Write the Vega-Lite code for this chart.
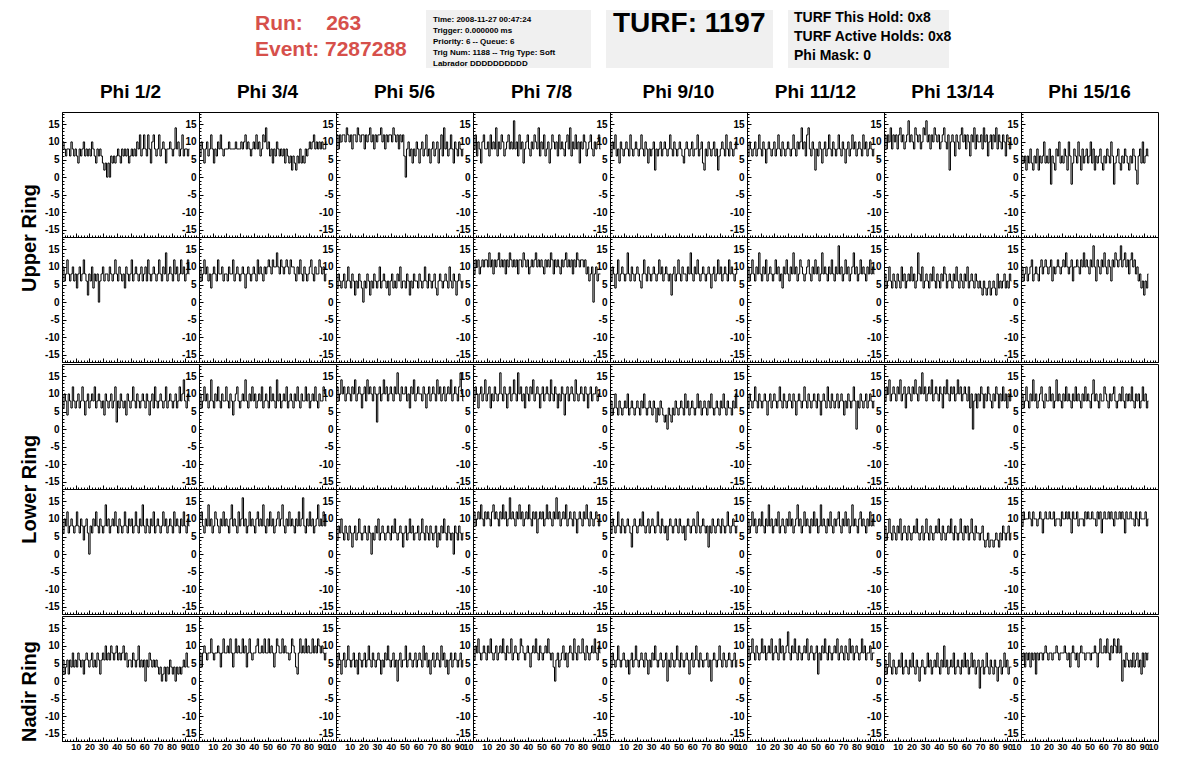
{
"$schema": "https://vega.github.io/schema/vega-lite/v6.json",
"background": "white",
"padding": {"left": 20, "top": 10, "right": 5, "bottom": 5},
"config": {
  "font": "Liberation Sans",
  "view": {"stroke": "black", "strokeWidth": 1},
  "axis": {"domainColor": "black", "domainWidth": 1, "tickColor": "black", "tickWidth": 1, "labelColor": "black", "labelFontWeight": "bold", "labelFontSize": 10, "labelFont": "Liberation Sans", "grid": false}
},
"datasets": {
"xs": [{"k":1,"x":[0,1,2,3,4,5,6,7,8,9,10,11,12,13,14,15,16,17,18,19,20,21,22,23,24,25,26,27,28,29,30,31,32,33,34,35,36,37,38,39,40,41,42,43,44,45,46,47,48,49,50,51,52,53,54,55,56,57,58,59,60,61,62,63,64,65,66,67,68,69,70,71,72,73,74,75,76,77,78,79,80,81,82,83,84,85,86,87,88,89,90,91,92,93]}],
"upper": [
{"k":1,"r":1,"c":"Phi 1/2","y":[8,10,8,6,8,8,6,10,8,6,8,6,4,8,6,8,10,6,8,6,8,6,10,8,6,4,8,6,8,6,4,2,4,0,4,0,6,4,6,4,6,8,6,4,8,6,8,6,8,4,6,8,6,8,6,10,8,12,6,8,12,8,6,12,8,4,10,12,8,6,8,12,6,8,10,8,4,8,8,10,8,6,8,14,8,10,6,8,12,6,8,8,6,8]},
{"k":1,"r":1,"c":"Phi 3/4","y":[8,6,10,8,4,8,10,6,8,12,8,4,8,6,10,8,12,8,6,8,8,8,10,8,8,8,8,10,8,8,8,10,8,10,12,8,10,8,6,8,10,8,12,8,10,6,8,12,10,14,8,10,6,8,4,8,6,10,8,6,8,6,8,4,8,6,4,6,2,6,4,2,6,4,8,4,6,4,8,6,8,10,8,10,12,8,10,8,10,8,10,8,8,10]},
{"k":1,"r":1,"c":"Phi 5/6","y":[10,12,8,12,10,12,12,10,14,12,10,12,8,12,12,10,14,12,10,12,12,8,12,10,12,14,10,12,8,12,10,12,12,14,10,12,8,12,10,12,12,10,14,12,10,12,8,12,10,12,6,0,8,10,6,8,4,8,6,10,8,4,8,10,6,8,12,6,8,4,8,10,6,8,10,4,8,12,6,14,8,10,6,8,12,8,4,10,8,6,10,8,6,8]},
{"k":1,"r":1,"c":"Phi 7/8","y":[10,8,12,6,10,8,4,10,12,8,8,10,6,12,8,10,8,14,6,10,8,12,10,6,8,10,12,8,10,8,16,8,10,6,12,8,10,4,8,10,12,8,6,10,8,12,10,8,14,6,10,8,12,6,8,10,4,8,12,10,8,10,6,12,8,10,8,6,10,12,8,14,6,10,8,12,8,10,4,10,8,12,10,6,8,10,12,8,6,10,8,10,12,8]},
{"k":1,"r":1,"c":"Phi 9/10","y":[8,6,10,8,12,6,8,4,10,8,6,8,10,8,6,12,8,6,8,10,8,6,8,12,8,6,10,8,4,8,6,8,10,2,8,6,8,10,6,8,10,8,6,8,12,8,6,10,8,6,8,10,8,6,4,8,10,8,6,8,10,6,8,8,12,6,8,10,4,2,8,6,10,8,6,8,10,6,8,2,6,8,10,8,6,12,8,6,10,8,6,8,10,8]},
{"k":1,"r":1,"c":"Phi 11/12","y":[8,6,10,8,6,8,10,6,8,12,8,6,10,8,4,8,10,8,6,8,10,6,8,12,8,6,10,8,6,8,10,8,6,8,12,8,6,10,8,10,14,8,10,6,12,14,8,6,10,8,2,8,6,10,8,4,8,10,6,8,12,8,6,10,8,6,8,12,8,6,10,8,4,8,10,6,8,12,8,10,6,8,10,8,6,12,8,10,6,8,10,8,6,8]},
{"k":1,"r":1,"c":"Phi 13/14","y":[10,12,8,12,10,14,8,12,10,12,8,12,14,10,12,8,10,12,16,10,12,10,8,14,12,10,12,8,10,14,12,16,10,12,8,12,10,14,12,10,12,8,10,12,14,10,8,12,2,10,12,10,6,12,10,8,12,14,10,12,8,12,10,6,12,10,14,8,12,10,10,12,8,14,10,12,6,10,12,8,12,10,14,8,12,10,8,12,10,6,12,10,8,10]},
{"k":1,"r":1,"c":"Phi 15/16","y":[6,6,4,6,2,6,4,8,4,2,6,4,8,2,6,4,6,10,4,6,4,8,-2,6,4,2,8,6,10,4,6,4,8,6,2,10,6,-2,4,8,6,4,10,6,2,8,4,6,8,4,6,10,4,8,2,6,4,6,8,4,2,6,4,8,6,4,10,6,-2,4,6,8,4,2,6,4,8,6,4,2,6,4,8,6,2,-2,6,8,4,10,4,6,8,6]},
{"k":1,"r":2,"c":"Phi 1/2","y":[8,10,6,8,12,8,6,8,10,6,8,4,8,10,6,8,12,8,6,2,8,6,10,4,8,6,8,0,6,8,10,6,8,8,6,10,8,6,8,12,8,6,10,8,6,8,4,10,8,6,8,12,6,8,10,8,6,8,10,6,8,10,6,12,8,6,8,10,8,6,8,12,8,6,10,8,14,6,8,10,8,6,12,8,10,6,8,12,8,10,6,8,12,8]},
{"k":1,"r":2,"c":"Phi 3/4","y":[8,10,6,8,12,8,10,6,8,4,8,10,8,6,12,8,8,10,6,8,8,6,10,8,8,12,6,8,10,8,6,8,10,8,4,8,10,8,6,8,10,8,6,12,8,10,8,6,10,8,10,12,10,8,12,10,10,14,10,8,12,10,8,10,12,10,8,12,10,10,8,6,10,8,12,8,6,10,8,6,8,10,12,8,6,10,8,8,12,10,8,10,6,8]},
{"k":1,"r":2,"c":"Phi 5/6","y":[6,4,8,6,4,6,8,4,6,10,6,4,8,6,2,6,4,8,6,4,0,6,4,8,6,2,6,4,8,6,4,6,10,4,6,8,6,4,6,2,6,8,4,6,4,8,6,10,4,6,6,4,8,6,2,6,4,8,6,6,4,8,6,4,6,10,6,4,8,6,4,6,8,4,2,6,8,6,4,6,8,6,4,10,6,4,8,6,2,6,8,6,4,6]},
{"k":1,"r":2,"c":"Phi 7/8","y":[10,8,12,10,12,8,10,12,10,12,12,10,14,10,12,8,12,10,12,14,10,12,10,12,8,12,10,14,12,10,12,10,12,8,12,12,10,14,12,10,12,8,10,12,10,12,14,10,12,10,12,10,8,12,10,12,10,14,12,8,12,10,12,10,8,12,10,12,14,10,12,10,12,8,12,10,14,12,10,12,12,10,12,8,10,6,8,10,0,8,10,6,8,8]},
{"k":1,"r":2,"c":"Phi 9/10","y":[8,6,10,8,4,8,12,6,8,10,8,6,8,14,8,6,10,8,6,8,10,8,6,4,8,12,8,6,10,8,6,8,10,8,6,8,12,8,10,6,8,10,8,6,8,2,8,10,6,8,12,8,6,10,8,8,6,10,8,14,8,6,10,8,12,8,6,8,10,8,6,8,10,8,4,8,10,6,8,12,8,10,6,8,10,8,6,12,8,10,8,6,8,10]},
{"k":1,"r":2,"c":"Phi 11/12","y":[8,10,6,8,12,8,6,10,8,14,8,6,10,8,12,6,8,10,8,6,8,12,8,10,6,8,4,10,8,12,8,6,10,8,14,8,10,6,8,12,10,8,6,8,10,12,8,6,10,8,12,8,10,6,8,14,8,10,8,6,10,8,12,8,6,10,8,16,8,10,6,8,12,8,10,6,8,10,14,8,10,6,8,12,8,10,8,6,10,8,12,8,10,8]},
{"k":1,"r":2,"c":"Phi 13/14","y":[6,8,4,6,10,6,4,8,6,4,8,6,4,10,6,8,4,6,8,6,10,6,8,4,6,14,8,6,10,4,6,8,6,4,8,6,10,6,4,8,6,4,8,6,10,8,4,6,8,6,4,8,6,10,6,4,8,6,4,8,6,10,4,6,8,6,4,8,6,4,6,4,2,6,4,2,4,6,2,4,6,4,2,8,4,6,4,6,8,4,6,4,8,6]},
{"k":1,"r":2,"c":"Phi 15/16","y":[8,10,6,8,10,6,8,10,12,6,8,10,8,6,10,12,8,10,12,10,8,10,12,6,10,8,10,12,10,8,10,12,10,14,10,8,10,12,6,10,10,12,10,8,12,10,14,10,12,10,8,12,10,16,10,6,12,10,8,12,10,14,10,8,12,10,6,12,10,14,12,10,12,16,10,12,14,10,12,8,12,14,10,12,8,10,6,8,4,6,2,6,4,8]}
],
"lower": [
{"k":1,"r":1,"c":"Phi 1/2","y":[8,6,10,8,4,10,8,6,12,8,6,8,10,6,8,12,8,4,8,10,6,8,10,8,12,6,8,10,8,6,8,4,10,8,6,8,10,6,8,12,2,8,6,10,8,6,8,4,10,8,6,8,12,8,6,10,8,6,8,10,8,6,10,8,4,8,10,6,12,8,6,8,10,8,6,8,12,6,8,10,8,6,8,10,6,8,12,8,10,14,8,6,10,8]},
{"k":1,"r":1,"c":"Phi 3/4","y":[8,10,6,8,12,8,10,6,8,14,8,6,10,8,12,8,6,10,8,8,12,8,6,10,8,4,8,10,12,8,6,8,10,8,14,8,6,10,8,12,8,10,6,8,10,8,12,6,8,10,8,6,12,8,10,8,6,14,8,10,6,8,10,8,12,6,8,10,8,6,10,8,12,8,6,10,8,8,12,8,10,6,8,10,8,12,8,6,10,8,8,12,10,8]},
{"k":1,"r":1,"c":"Phi 5/6","y":[10,12,8,10,14,10,12,8,10,12,10,8,12,10,14,8,10,12,10,6,10,12,8,14,10,12,10,8,12,10,2,10,12,8,10,14,10,12,8,10,12,10,8,12,10,16,10,8,12,10,10,12,8,10,6,12,10,14,8,10,12,10,10,8,12,10,6,10,12,8,10,12,10,8,14,10,12,8,10,12,8,10,12,10,14,8,10,12,10,8,12,16,10,8]},
{"k":1,"r":1,"c":"Phi 7/8","y":[10,8,12,10,6,10,12,8,10,14,8,10,12,6,10,8,12,10,8,10,16,10,8,12,10,6,10,12,8,10,14,10,8,16,10,12,8,10,6,12,10,8,12,10,14,8,10,12,10,6,10,12,8,10,12,10,8,14,10,8,12,10,6,10,8,12,10,4,10,12,8,10,12,10,8,14,10,8,10,12,10,8,12,10,6,10,12,8,10,10,12,8,10,10]},
{"k":1,"r":1,"c":"Phi 9/10","y":[6,8,4,6,10,6,4,8,6,4,6,8,6,10,4,6,8,6,4,6,8,6,4,8,6,10,6,4,6,8,6,4,8,6,2,6,4,8,6,4,2,4,0,6,4,2,6,4,8,6,4,6,8,6,4,10,6,8,4,6,8,6,4,6,10,6,8,4,6,8,6,4,8,6,10,6,4,6,8,6,4,8,6,10,6,4,8,6,6,4,8,6,10,6]},
{"k":1,"r":1,"c":"Phi 11/12","y":[8,6,10,8,6,8,12,8,6,10,8,6,8,10,8,4,8,10,6,8,10,8,6,8,12,8,6,10,8,6,8,10,8,6,10,8,4,8,10,8,6,8,12,8,6,10,8,6,8,10,8,6,10,8,4,8,10,8,6,12,8,6,10,8,6,8,10,6,8,10,8,4,8,6,10,8,6,8,12,8,0,8,6,10,8,6,8,10,6,8,10,8,6,8]},
{"k":1,"r":1,"c":"Phi 13/14","y":[10,8,12,10,14,8,10,12,10,8,12,10,14,8,10,12,6,10,12,10,8,12,10,14,10,8,12,10,16,10,12,8,10,12,10,14,8,10,12,10,8,12,10,6,12,10,14,10,8,12,10,12,8,10,14,10,12,8,10,12,10,8,12,6,10,0,8,10,6,10,8,12,10,6,10,8,12,10,8,6,10,8,12,10,6,10,8,12,8,10,6,10,8,10]},
{"k":1,"r":1,"c":"Phi 15/16","y":[8,10,6,8,12,8,6,10,8,14,8,10,6,8,10,12,8,6,10,8,8,12,8,10,6,8,14,8,10,8,6,10,8,12,8,10,8,6,10,8,12,8,10,8,6,10,8,12,8,10,8,6,10,14,8,10,8,6,10,8,8,12,10,8,6,10,8,10,12,8,6,8,10,8,12,8,6,10,8,10,8,12,8,6,10,8,10,6,8,12,8,10,6,8]},
{"k":1,"r":2,"c":"Phi 1/2","y":[8,6,10,8,12,6,8,10,8,6,8,12,8,6,10,8,4,8,10,6,0,8,6,10,8,12,8,6,10,8,6,8,14,8,10,6,8,10,8,12,8,6,10,8,6,8,12,8,6,10,8,10,6,8,12,8,6,10,8,14,8,6,10,8,6,10,8,12,6,8,10,8,6,8,12,8,10,6,8,10,8,6,12,8,10,8,6,10,8,12,8,6,10,8]},
{"k":1,"r":2,"c":"Phi 3/4","y":[8,10,12,8,6,10,8,14,8,10,6,8,12,10,8,6,10,8,12,8,10,8,6,10,14,8,10,8,6,12,8,10,16,8,10,6,8,12,8,10,8,6,10,12,8,10,8,14,8,6,10,8,12,8,10,6,8,10,12,8,10,14,8,6,10,8,12,8,10,8,6,10,8,12,8,10,16,8,6,10,8,12,8,10,6,8,10,14,8,10,8,12,8,10]},
{"k":1,"r":2,"c":"Phi 5/6","y":[6,4,8,6,10,6,4,8,6,4,8,6,2,6,8,4,6,10,6,4,6,8,6,4,8,6,0,6,4,8,6,10,4,6,8,6,4,6,8,6,4,8,6,10,6,4,6,8,6,2,6,8,4,6,10,6,8,4,6,6,8,4,6,10,6,4,8,6,4,8,6,4,6,8,2,6,4,8,6,10,6,4,8,6,4,6,0,8,6,4,8,6,4,6]},
{"k":1,"r":2,"c":"Phi 7/8","y":[10,12,8,10,12,10,14,10,8,12,10,12,10,8,12,14,10,12,10,8,12,10,14,10,12,8,10,16,10,12,10,8,12,10,14,10,12,8,10,12,10,14,10,8,12,10,12,6,10,12,10,12,8,10,14,10,12,10,8,12,10,16,10,12,8,10,12,10,14,8,10,12,10,8,12,10,6,10,12,10,8,12,10,14,10,8,12,10,8,10,12,10,8,10]},
{"k":1,"r":2,"c":"Phi 9/10","y":[8,6,10,8,6,8,12,8,6,10,8,6,8,10,8,6,2,8,10,8,6,8,10,8,12,8,6,8,10,6,8,10,8,6,8,12,8,6,10,8,6,8,4,8,10,8,6,8,10,8,6,10,8,6,8,4,8,10,8,6,8,10,8,6,12,8,6,8,10,8,6,8,2,8,6,10,8,6,8,10,8,6,10,8,6,8,12,8,6,8,10,8,6,8]},
{"k":1,"r":2,"c":"Phi 11/12","y":[8,10,6,8,12,8,10,6,8,10,8,12,8,6,10,8,14,8,10,6,8,10,8,12,6,8,10,8,6,10,8,12,8,10,6,8,10,14,8,10,6,8,12,8,10,8,6,10,8,12,8,10,6,8,14,8,10,8,6,10,8,12,8,6,10,8,10,12,8,6,10,8,12,8,10,6,8,14,8,10,8,6,10,12,8,10,8,6,10,8,12,8,10,8]},
{"k":1,"r":2,"c":"Phi 13/14","y":[6,8,4,6,10,6,4,8,6,4,8,6,10,4,6,8,6,4,8,6,4,6,8,6,10,6,4,6,8,4,6,10,6,4,8,6,4,6,8,6,10,6,4,8,6,4,6,8,6,10,6,4,8,6,4,6,10,6,4,8,6,8,4,6,10,6,4,8,6,6,4,6,8,4,2,4,6,2,4,4,2,4,6,4,2,6,4,8,6,4,6,8,4,6]},
{"k":1,"r":2,"c":"Phi 15/16","y":[10,8,12,10,10,10,12,10,8,12,10,10,8,10,12,10,6,10,12,10,10,12,10,10,12,8,10,10,10,8,12,10,10,12,10,12,10,6,12,10,10,12,8,10,10,10,8,12,10,12,10,10,12,10,10,8,12,10,12,6,10,12,10,10,12,10,12,10,8,12,10,10,12,10,12,10,6,12,10,10,12,10,10,8,12,10,8,12,10,10,10,12,8,10]}
],
"nadir": [
{"k":1,"c":"Phi 1/2","y":[4,6,2,4,6,2,6,4,8,4,6,4,8,6,4,6,2,6,8,6,4,6,8,4,6,4,8,6,2,6,8,6,10,6,8,6,10,8,6,8,10,6,8,6,8,10,6,8,4,6,6,4,8,6,4,6,10,4,6,4,6,0,6,4,8,6,4,6,4,6,4,2,4,0,2,4,0,4,2,6,4,2,4,0,4,2,4,2,4,6,4,8,4,4]},
{"k":1,"c":"Phi 3/4","y":[6,8,4,8,10,8,6,8,8,12,8,6,8,8,10,8,4,8,12,8,8,10,8,12,8,4,8,12,8,10,8,8,12,8,10,4,8,12,8,6,8,8,10,12,8,8,10,8,12,8,8,12,8,10,8,4,8,12,10,8,8,12,8,10,8,8,6,8,12,10,8,4,2,8,12,8,10,8,12,8,10,8,8,12,8,10,8,12,10,8,10,8,6,8]},
{"k":1,"c":"Phi 5/6","y":[6,4,8,6,2,6,8,4,6,10,6,4,6,8,4,6,2,8,6,4,6,8,4,6,10,6,4,8,6,4,6,8,6,2,6,4,8,6,10,6,4,6,8,4,6,0,6,8,4,6,6,10,4,6,8,6,4,6,8,4,6,8,6,4,10,6,8,4,6,2,6,8,4,6,8,6,4,10,6,8,4,6,2,6,8,4,6,8,6,4,6,8,4,6]},
{"k":1,"c":"Phi 7/8","y":[8,6,10,8,12,8,6,8,10,8,6,10,8,12,8,6,8,10,6,8,10,8,12,8,6,10,8,8,12,6,8,10,8,6,8,12,10,8,6,8,10,8,4,8,10,8,12,8,6,10,8,6,8,10,8,12,8,6,8,4,0,6,8,4,6,8,10,6,8,4,8,10,8,6,12,8,6,10,8,8,12,8,6,10,8,6,8,10,8,12,8,6,10,8]},
{"k":1,"c":"Phi 9/10","y":[6,4,8,6,4,6,10,6,4,6,8,6,4,6,2,6,8,4,6,10,6,4,6,8,6,4,8,6,2,6,4,8,6,10,6,4,6,8,6,4,6,8,0,6,4,8,6,4,6,10,6,4,8,6,4,6,8,6,2,6,8,4,6,10,6,4,8,6,4,6,6,8,4,6,0,6,8,6,4,6,10,6,4,8,6,4,6,8,6,4,6,8,4,6]},
{"k":1,"c":"Phi 11/12","y":[8,10,6,8,12,8,6,10,8,6,8,12,8,10,6,8,10,8,12,6,8,10,8,6,12,8,10,6,8,10,14,8,6,10,8,12,8,6,10,8,6,8,10,8,12,6,8,10,8,6,8,10,2,8,6,10,8,12,8,6,10,8,6,8,10,8,12,6,8,10,8,6,10,8,6,12,8,10,6,8,10,8,6,8,12,8,10,6,8,8,10,6,8,8]},
{"k":1,"c":"Phi 13/14","y":[4,6,2,4,8,4,2,6,4,2,4,6,4,8,2,4,6,4,2,6,4,8,4,2,6,4,0,4,6,4,2,4,8,4,6,2,4,6,4,8,4,2,6,4,10,4,6,2,4,6,4,8,2,4,6,4,2,6,4,8,4,6,2,4,8,4,6,2,4,6,-2,4,6,2,4,8,4,2,6,4,2,6,4,0,4,6,2,4,8,4,6,2,4,4]},
{"k":1,"c":"Phi 15/16","y":[8,6,8,4,8,6,8,4,8,6,8,2,8,6,8,8,6,8,10,8,6,8,8,6,8,8,10,8,6,8,8,8,10,8,6,8,4,8,10,8,6,8,4,8,10,8,8,6,8,8,8,6,8,8,10,8,4,8,12,8,8,10,8,12,8,6,10,8,12,10,8,12,8,10,0,6,4,8,6,4,6,4,8,4,6,8,4,6,2,8,4,8,6,8]}
]
},
"vconcat": [
  {
    "hconcat": [
      {"width": 174, "height": 58, "view": {"stroke": null}, "data": {"values": []}, "mark": "text", "encoding": {}},
      {"width": 160, "height": 58, "view": {"stroke": null},
       "data": {"values": [{"line": 1, "t": "Run:\u00a0\u00a0\u00a0\u00a0263"}, {"line": 2, "t": "Event: 7287288"}]},
       "mark": {"type": "text", "align": "left", "baseline": "alphabetic", "fontSize": 21, "fontWeight": "bold", "color": "#d6504b", "font": "Liberation Sans", "dx": 4},
       "encoding": {
         "x": {"datum": 0, "type": "quantitative", "scale": {"domain": [0, 1]}, "axis": null},
         "y": {"field": "line", "type": "ordinal", "axis": null, "scale": {"type": "point", "range": [20, 46], "padding": 0}},
         "text": {"field": "t"}}},
      {"width": 165, "height": 58, "view": {"stroke": null, "fill": "#f0f0f0"},
       "data": {"values": [{"line": 1, "t": "Time: 2008-11-27 00:47:24"}, {"line": 2, "t": "Trigger: 0.000000 ms"}, {"line": 3, "t": "Priority: 6 -- Queue: 6"}, {"line": 4, "t": "Trig Num: 1188 -- Trig Type: Soft"}, {"line": 5, "t": "Labrador DDDDDDDDDD"}]},
       "mark": {"type": "text", "align": "left", "baseline": "alphabetic", "fontSize": 8, "fontWeight": "bold", "color": "black", "font": "Liberation Sans", "dx": 7},
       "encoding": {
         "x": {"datum": 0, "type": "quantitative", "scale": {"domain": [0, 1]}, "axis": null},
         "y": {"field": "line", "type": "ordinal", "axis": null, "scale": {"type": "point", "range": [12, 56], "padding": 0}},
         "text": {"field": "t"}}},
      {"width": 167, "height": 58, "view": {"stroke": null, "fill": "#f0f0f0"},
       "data": {"values": [{"line": 1, "t": "TURF: 1197"}]},
       "mark": {"type": "text", "align": "left", "baseline": "alphabetic", "fontSize": 28, "fontWeight": "bold", "color": "black", "font": "Liberation Sans", "dx": 7},
       "encoding": {
         "x": {"datum": 0, "type": "quantitative", "scale": {"domain": [0, 1]}, "axis": null},
         "y": {"field": "line", "type": "ordinal", "axis": null, "scale": {"type": "point", "range": [22, 22], "padding": 0}},
         "text": {"field": "t"}}},
      {"width": 161, "height": 58, "view": {"stroke": null, "fill": "#f0f0f0"},
       "data": {"values": [{"line": 1, "t": "TURF This Hold: 0x8"}, {"line": 2, "t": "TURF Active Holds: 0x8"}, {"line": 3, "t": "Phi Mask: 0"}]},
       "mark": {"type": "text", "align": "left", "baseline": "alphabetic", "fontSize": 14, "fontWeight": "bold", "color": "black", "font": "Liberation Sans", "dx": 6},
       "encoding": {
         "x": {"datum": 0, "type": "quantitative", "scale": {"domain": [0, 1]}, "axis": null},
         "y": {"field": "line", "type": "ordinal", "axis": null, "scale": {"type": "point", "range": [12, 50], "padding": 0}},
         "text": {"field": "t"}}}
    ],
    "spacing": 15
  },
  {
    "vconcat": [
      {
        "title": {"text": "Upper Ring", "orient": "left", "anchor": "middle", "fontSize": 20, "fontWeight": "bold", "font": "Liberation Sans", "color": "black", "offset": 4, "dx": -15},
        "data": {"name": "upper"},
        "transform": [{"lookup": "k", "from": {"data": {"name": "xs"}, "key": "k", "fields": ["x"]}}, {"flatten": ["x", "y"]}],
        "facet": {
          "row": {"field": "r", "type": "ordinal", "header": null},
          "column": {"field": "c", "type": "nominal", "title": null, "sort": ["Phi 1/2","Phi 3/4","Phi 5/6","Phi 7/8","Phi 9/10","Phi 11/12","Phi 13/14","Phi 15/16"],
            "header": {"labelFontSize": 19, "labelFontWeight": "bold", "labelFont": "Liberation Sans", "labelColor": "black", "labelPadding": -5, "labelBaseline": "alphabetic", "labelExpr": "datum.label + '\u00a0\u00a0\u00a0'"}}
        },
        "spacing": 0,
        "bounds": "flush",
        "resolve": {"axis": {"x": "independent", "y": "independent"}},
        "spec": {
          "width": 137, "height": 125,
          "mark": {"type": "line", "interpolate": "step", "color": "black", "strokeWidth": 1},
          "encoding": {
            "x": {"field": "x", "type": "quantitative", "scale": {"domain": [0, 100], "nice": false, "zero": false},
              "axis": {"title": null, "labels": false, "values": [0,2,4,6,8,10,12,14,16,18,20,22,24,26,28,30,32,34,36,38,40,42,44,46,48,50,52,54,56,58,60,62,64,66,68,70,72,74,76,78,80,82,84,86,88,90,92,94,96,98,100],
                "tickSize": {"condition": {"test": "datum.value % 10 == 0", "value": -4}, "value": -2}}},
            "y": {"field": "y", "type": "quantitative", "scale": {"domain": [-17, 18.5], "nice": false, "zero": false},
              "axis": {"title": null, "values": [-17,-16,-15,-14,-13,-12,-11,-10,-9,-8,-7,-6,-5,-4,-3,-2,-1,0,1,2,3,4,5,6,7,8,9,10,11,12,13,14,15,16,17,18],
                "labelExpr": "datum.value % 5 == 0 ? '' + datum.value : ''",
                "labelFontSize": {"condition": {"test": "datum.value % 5 == 0", "value": 10}, "value": 0},
                "tickSize": {"condition": {"test": "datum.value % 5 == 0", "value": -4}, "value": -2},
                "labelPadding": 7, "labelOverlap": false, "labelBound": false, "labelFlush": false}}
          }
        }
      },
      {
        "title": {"text": "Lower Ring", "orient": "left", "anchor": "middle", "fontSize": 20, "fontWeight": "bold", "font": "Liberation Sans", "color": "black", "offset": 4},
        "data": {"name": "lower"},
        "transform": [{"lookup": "k", "from": {"data": {"name": "xs"}, "key": "k", "fields": ["x"]}}, {"flatten": ["x", "y"]}],
        "facet": {
          "row": {"field": "r", "type": "ordinal", "header": null},
          "column": {"field": "c", "type": "nominal", "title": null, "sort": ["Phi 1/2","Phi 3/4","Phi 5/6","Phi 7/8","Phi 9/10","Phi 11/12","Phi 13/14","Phi 15/16"], "header": null}
        },
        "spacing": 0,
        "bounds": "flush",
        "resolve": {"axis": {"x": "independent", "y": "independent"}},
        "spec": {
          "width": 137, "height": 125,
          "mark": {"type": "line", "interpolate": "step", "color": "black", "strokeWidth": 1},
          "encoding": {
            "x": {"field": "x", "type": "quantitative", "scale": {"domain": [0, 100], "nice": false, "zero": false},
              "axis": {"title": null, "labels": false, "values": [0,2,4,6,8,10,12,14,16,18,20,22,24,26,28,30,32,34,36,38,40,42,44,46,48,50,52,54,56,58,60,62,64,66,68,70,72,74,76,78,80,82,84,86,88,90,92,94,96,98,100],
                "tickSize": {"condition": {"test": "datum.value % 10 == 0", "value": -4}, "value": -2}}},
            "y": {"field": "y", "type": "quantitative", "scale": {"domain": [-17, 18.5], "nice": false, "zero": false},
              "axis": {"title": null, "values": [-17,-16,-15,-14,-13,-12,-11,-10,-9,-8,-7,-6,-5,-4,-3,-2,-1,0,1,2,3,4,5,6,7,8,9,10,11,12,13,14,15,16,17,18],
                "labelExpr": "datum.value % 5 == 0 ? '' + datum.value : ''",
                "labelFontSize": {"condition": {"test": "datum.value % 5 == 0", "value": 10}, "value": 0},
                "tickSize": {"condition": {"test": "datum.value % 5 == 0", "value": -4}, "value": -2},
                "labelPadding": 7, "labelOverlap": false, "labelBound": false, "labelFlush": false}}
          }
        }
      },
      {
        "title": {"text": "Nadir Ring", "orient": "left", "anchor": "middle", "fontSize": 20, "fontWeight": "bold", "font": "Liberation Sans", "color": "black", "offset": 4, "dx": -8},
        "data": {"name": "nadir"},
        "transform": [{"lookup": "k", "from": {"data": {"name": "xs"}, "key": "k", "fields": ["x"]}}, {"flatten": ["x", "y"]}],
        "facet": {
          "column": {"field": "c", "type": "nominal", "title": null, "sort": ["Phi 1/2","Phi 3/4","Phi 5/6","Phi 7/8","Phi 9/10","Phi 11/12","Phi 13/14","Phi 15/16"], "header": null}
        },
        "spacing": 0,
        "bounds": "flush",
        "resolve": {"axis": {"x": "independent", "y": "independent"}},
        "spec": {
          "width": 137, "height": 125,
          "mark": {"type": "line", "interpolate": "step", "color": "black", "strokeWidth": 1},
          "encoding": {
            "x": {"field": "x", "type": "quantitative", "scale": {"domain": [0, 100], "nice": false, "zero": false},
              "axis": {"title": null, "values": [0,2,4,6,8,10,12,14,16,18,20,22,24,26,28,30,32,34,36,38,40,42,44,46,48,50,52,54,56,58,60,62,64,66,68,70,72,74,76,78,80,82,84,86,88,90,92,94,96,98,100],
                "labelExpr": "datum.value % 10 != 0 || datum.value == 0 ? '' : (datum.value == 100 ? '10' : '' + datum.value)",
                "labelAlign": {"condition": {"test": "datum.value == 100", "value": "right"}, "value": "center"},
                "labelFontSize": {"condition": {"test": "datum.value % 10 == 0 && datum.value > 0", "value": 9}, "value": 0},
                "tickSize": {"condition": {"test": "datum.value % 10 == 0", "value": -4}, "value": -2},
                "labelPadding": 5, "labelOverlap": false, "labelBound": false, "labelFlush": false}},
            "y": {"field": "y", "type": "quantitative", "scale": {"domain": [-17, 18.5], "nice": false, "zero": false},
              "axis": {"title": null, "values": [-17,-16,-15,-14,-13,-12,-11,-10,-9,-8,-7,-6,-5,-4,-3,-2,-1,0,1,2,3,4,5,6,7,8,9,10,11,12,13,14,15,16,17,18],
                "labelExpr": "datum.value % 5 == 0 ? '' + datum.value : ''",
                "labelFontSize": {"condition": {"test": "datum.value % 5 == 0", "value": 10}, "value": 0},
                "tickSize": {"condition": {"test": "datum.value % 5 == 0", "value": -4}, "value": -2},
                "labelPadding": 7, "labelOverlap": false, "labelBound": false, "labelFlush": false}}
          }
        }
      }
    ],
    "spacing": 0
  }
],
"spacing": 15
}
